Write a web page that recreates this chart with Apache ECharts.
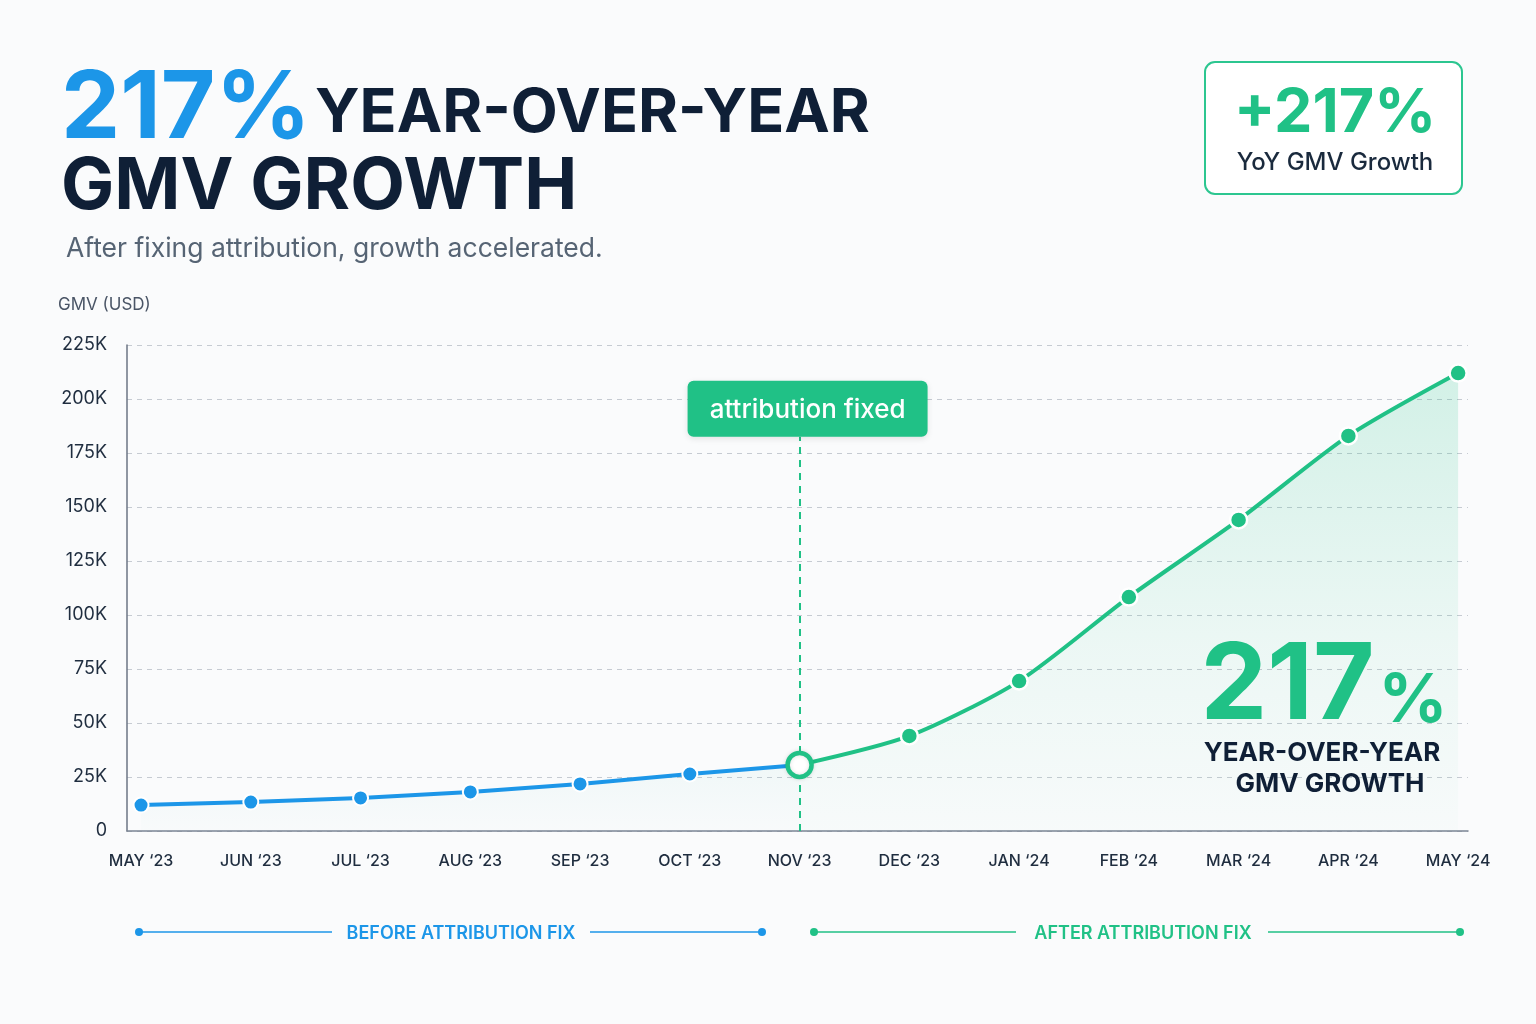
<!DOCTYPE html>
<html>
<head>
<meta charset="utf-8">
<script src="https://cdn.jsdelivr.net/npm/echarts@6/dist/echarts.min.js"></script>
<style>
html,body{margin:0;padding:0;background:#fafbfc;}
#chart{width:1536px;height:1024px;}
</style>
</head>
<body>
<div id="chart"></div>
<script>
const months = ["MAY \u201823","JUN \u201823","JUL \u201823","AUG \u201823","SEP \u201823","OCT \u201823","NOV \u201823","DEC \u201823","JAN \u201824","FEB \u201824","MAR \u201824","APR \u201824","MAY \u201824"];
const beforeValues = [12000, 13400, 15300, 18100, 21800, 26400, 30600];
const afterValues = [30600, 44000, 69400, 108300, 144000, 182900, 212000];
const yTicks = [0, 25000, 50000, 75000, 100000, 125000, 150000, 175000, 200000, 225000];
const fixIndex = 6;
const annotationTop = 182500;

const BLUE = '#1c96e8';
const GREEN = '#20c186';
const NAVY = '#0f1f36';
const FONT = 'Inter, "Noto Sans", sans-serif';

const beforeData = beforeValues.map((v, i) => [i, v]);
const afterData = afterValues.map((v, i) => i === 0 ? { value: [i + fixIndex, v], symbol: 'none' } : [i + fixIndex, v]);

const annRectStyle = { fill: GREEN, shadowColor: 'rgba(0,0,0,0.10)', shadowBlur: 6, shadowOffsetY: 2 };
const annTextStyle = { text: 'attribution fixed', font: '500 26px ' + FONT, fill: '#ffffff', align: 'center', verticalAlign: 'middle' };

const chart = echarts.init(document.getElementById('chart'));

const option = {
  backgroundColor: '#fafbfc',
  animation: false,
  grid: { left: 127, right: 68, top: 345, bottom: 193 },
  xAxis: {
    type: 'value',
    min: -0.128,
    max: 12.09,
    axisLine: { show: true, onZero: false, lineStyle: { color: '#7b8594', width: 1.5 } },
    axisTick: { show: false },
    splitLine: { show: false },
    axisLabel: {
      customValues: months.map((m, i) => i),
      formatter: v => months[Math.round(v)] || '',
      color: '#1f2d3f',
      fontSize: 16,
      fontFamily: FONT,
      fontWeight: 500,
      margin: 22
    }
  },
  yAxis: {
    type: 'value',
    min: 0,
    max: 225000,
    interval: 25000,
    axisLine: { show: true, onZero: false, lineStyle: { color: '#6b7585', width: 1.5 } },
    axisTick: { show: false },
    splitLine: { show: true, lineStyle: { color: '#c6cbd2', type: [5, 5], width: 1 } },
    axisLabel: {
      formatter: v => v === 0 ? '0' : (v / 1000) + 'K',
      color: '#1f2d3f',
      fontSize: 18,
      fontFamily: FONT,
      margin: 20
    }
  },
  series: [
    {
      type: 'line',
      data: beforeData,
      symbol: 'circle',
      symbolSize: 15,
      lineStyle: { color: BLUE, width: 4 },
      itemStyle: { color: BLUE, borderColor: '#ffffff', borderWidth: 2 },
      areaStyle: {
        color: new echarts.graphic.LinearGradient(0, 0, 0, 1, [
          { offset: 0, color: 'rgba(110,200,190,0.10)' },
          { offset: 1, color: 'rgba(110,200,190,0.02)' }
        ])
      },
      z: 3
    },
    {
      type: 'line',
      data: afterData,
      smooth: 0.25,
      symbol: 'circle',
      symbolSize: 17,
      lineStyle: { color: GREEN, width: 4 },
      itemStyle: { color: GREEN, borderColor: '#ffffff', borderWidth: 2.5 },
      areaStyle: {
        color: new echarts.graphic.LinearGradient(0, 0, 0, 1, [
          { offset: 0, color: 'rgba(32,193,134,0.26)' },
          { offset: 0.6, color: 'rgba(32,193,134,0.09)' },
          { offset: 1, color: 'rgba(32,193,134,0.02)' }
        ])
      },
      markLine: {
        silent: true,
        symbol: 'none',
        label: { show: false },
        lineStyle: { color: GREEN, type: [7, 6], width: 2 },
        data: [[{ coord: [fixIndex, 0] }, { coord: [fixIndex, annotationTop] }]]
      },
      z: 4
    },
    {
      type: 'scatter',
      data: [[fixIndex, beforeValues[fixIndex]]],
      symbol: 'circle',
      symbolSize: 24,
      itemStyle: { color: '#ffffff', opacity: 1, borderColor: GREEN, borderWidth: 4.5, shadowColor: 'rgba(0,0,0,0.12)', shadowBlur: 4 },
      z: 6
    }
  ],
  graphic: [
    // Headline
    { type: 'text', left: 61, top: 63, style: { text: '217%', font: 'bold 94px ' + FONT, fill: BLUE } },
    { type: 'text', left: 315, top: 83, style: { text: 'YEAR-OVER-YEAR', font: 'bold 61px ' + FONT, fill: NAVY } },
    { type: 'text', left: 61, top: 152, style: { text: 'GMV GROWTH', font: 'bold 71px ' + FONT, fill: NAVY } },
    { type: 'text', left: 66, top: 236, style: { text: 'After fixing attribution, growth accelerated.', font: '26.5px ' + FONT, fill: '#566474' } },
    { type: 'text', left: 58, top: 296, style: { text: 'GMV (USD)', font: '17px ' + FONT, fill: '#4a5566' } },
    // KPI box
    { type: 'rect', shape: { x: 1205, y: 62, width: 257, height: 132, r: 10 }, style: { fill: '#ffffff', stroke: '#2cc690', lineWidth: 2 } },
    { type: 'text', x: 1335, y: 114, style: { text: '+217%', font: 'bold 61px ' + FONT, fill: GREEN, align: 'center', verticalAlign: 'middle' } },
    { type: 'text', x: 1335, y: 163, style: { text: 'YoY GMV Growth', font: '500 24px ' + FONT, fill: '#1a2a3d', align: 'center', verticalAlign: 'middle' } },
    // In-chart callout
    { type: 'text', x: 1324, y: 740, z: 10, style: {
      text: '{a|217}{b|%}', align: 'center', verticalAlign: 'bottom',
      rich: {
        a: { font: 'bold 106px ' + FONT, fill: GREEN, verticalAlign: 'bottom' },
        b: { font: 'bold 68px ' + FONT, fill: GREEN, verticalAlign: 'bottom', padding: [0, 0, 4, 4] }
      }
    } },
    { type: 'text', x: 1322, y: 753, z: 10, style: { text: 'YEAR-OVER-YEAR', font: 'bold 26px ' + FONT, fill: NAVY, align: 'center', verticalAlign: 'middle' } },
    { type: 'text', x: 1330, y: 784, z: 10, style: { text: 'GMV GROWTH', font: 'bold 26px ' + FONT, fill: NAVY, align: 'center', verticalAlign: 'middle' } },
    // Bottom phase legend - before
    { type: 'line', shape: { x1: 139, y1: 932, x2: 332, y2: 932 }, style: { stroke: BLUE, lineWidth: 1.5 } },
    { type: 'line', shape: { x1: 590, y1: 932, x2: 762, y2: 932 }, style: { stroke: BLUE, lineWidth: 1.5 } },
    { type: 'circle', shape: { cx: 139, cy: 932, r: 4 }, style: { fill: BLUE } },
    { type: 'circle', shape: { cx: 762, cy: 932, r: 4 }, style: { fill: BLUE } },
    { type: 'text', x: 461, y: 934, style: { text: 'BEFORE ATTRIBUTION FIX', font: '600 18px ' + FONT, fill: BLUE, align: 'center', verticalAlign: 'middle' } },
    // Bottom phase legend - after
    { type: 'line', shape: { x1: 814, y1: 932, x2: 1016, y2: 932 }, style: { stroke: GREEN, lineWidth: 1.5 } },
    { type: 'line', shape: { x1: 1268, y1: 932, x2: 1460, y2: 932 }, style: { stroke: GREEN, lineWidth: 1.5 } },
    { type: 'circle', shape: { cx: 814, cy: 932, r: 4 }, style: { fill: GREEN } },
    { type: 'circle', shape: { cx: 1460, cy: 932, r: 4 }, style: { fill: GREEN } },
    { type: 'text', x: 1143, y: 934, style: { text: 'AFTER ATTRIBUTION FIX', font: '600 18px ' + FONT, fill: GREEN, align: 'center', verticalAlign: 'middle' } }
  ]
};

chart.setOption(option);

// Place the annotation box above the dashed marker line, using the axis scale
const p = chart.convertToPixel({ gridIndex: 0 }, [fixIndex, annotationTop]);
const cx = p[0] + 8;
const opt2 = chart.getOption();
chart.setOption({
  graphic: option.graphic.concat([
    { type: 'rect', z: 10, shape: { x: cx - 120, y: p[1] - 56, width: 240, height: 56, r: 6 }, style: annRectStyle },
    { type: 'text', z: 11, x: cx, y: p[1] - 27, style: annTextStyle }
  ])
}, { replaceMerge: ['graphic'] });
</script>
</body>
</html>
